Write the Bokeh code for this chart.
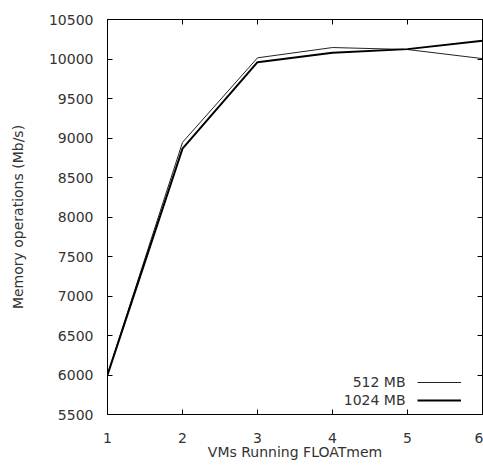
from bokeh.plotting import figure
from bokeh.models import Range1d, LinearAxis, FixedTicker, Legend, LegendItem, Label
from bokeh.embed import file_html
from bokeh.resources import INLINE

vms = [1, 2, 3, 4, 5, 6]
mem512 = [6010, 8945, 10015, 10145, 10120, 10005]
mem1024 = [6000, 8865, 9960, 10080, 10125, 10232]
xticks = [1, 2, 3, 4, 5, 6]
yticks = list(range(5500, 10501, 500))

FONT = "DejaVu Sans"
TXT = "#333333"

p = figure(width=483, height=471, output_backend="svg", toolbar_location=None,
           x_range=Range1d(1, 6), y_range=Range1d(5500, 10500),
           min_border_left=107, min_border_right=1, min_border_top=19, min_border_bottom=57,
           x_axis_label="VMs Running FLOATmem", y_axis_label="Memory operations (Mb/s)")
p.grid.visible = False
p.outline_line_color = "black"
p.outline_line_width = 1
p.background_fill_color = "white"
p.border_fill_color = "white"

for ax, ticks in ((p.xaxis[0], xticks), (p.yaxis[0], yticks)):
    ax.ticker = FixedTicker(ticks=ticks)
    ax.major_tick_in = 5
    ax.major_tick_out = 0
    ax.minor_tick_line_color = None
    ax.major_label_text_font = FONT
    ax.major_label_text_font_size = "14px"
    ax.major_label_text_color = TXT
    ax.axis_label_text_font = FONT
    ax.axis_label_text_font_size = "14px"
    ax.axis_label_text_font_style = "normal"
    ax.axis_label_text_color = TXT
    ax.axis_line_color = "black"
p.xaxis[0].major_label_standoff = 18
p.xaxis[0].axis_label_standoff = -2
p.yaxis[0].major_label_standoff = 14
p.yaxis[0].axis_label_standoff = 20

top = LinearAxis(ticker=FixedTicker(ticks=xticks), major_tick_in=5, major_tick_out=0,
                 minor_tick_line_color=None, major_label_text_alpha=0,
                 major_label_standoff=0, axis_line_color="black")
right = LinearAxis(ticker=FixedTicker(ticks=yticks), major_tick_in=5, major_tick_out=0,
                   minor_tick_line_color=None, major_label_text_alpha=0,
                   major_label_standoff=0, axis_line_color="black")
p.add_layout(top, "above")
p.add_layout(right, "right")

r1 = p.line(vms, mem512, line_color="#222222", line_width=1)
r2 = p.line(vms, mem1024, line_color="black", line_width=2)

legend = Legend(items=[LegendItem(label="512 MB", renderers=[r1]),
                       LegendItem(label="1024 MB", renderers=[r2])],
                location=(310, 5), padding=0, margin=0, spacing=0,
                glyph_width=44, glyph_height=18, label_width=1, label_height=18,
                label_standoff=0, label_text_alpha=0, label_text_font_size="3px",
                border_line_alpha=0, background_fill_alpha=0)
p.add_layout(legend)

for txt, ys in (("512 MB", 33), ("1024 MB", 15)):
    p.add_layout(Label(x=298, y=ys, x_units="screen", y_units="screen", text=txt,
                       text_align="right", text_baseline="middle",
                       text_font=FONT, text_font_size="14px", text_color=TXT))

open("out.html", "w").write(file_html(p, INLINE))
